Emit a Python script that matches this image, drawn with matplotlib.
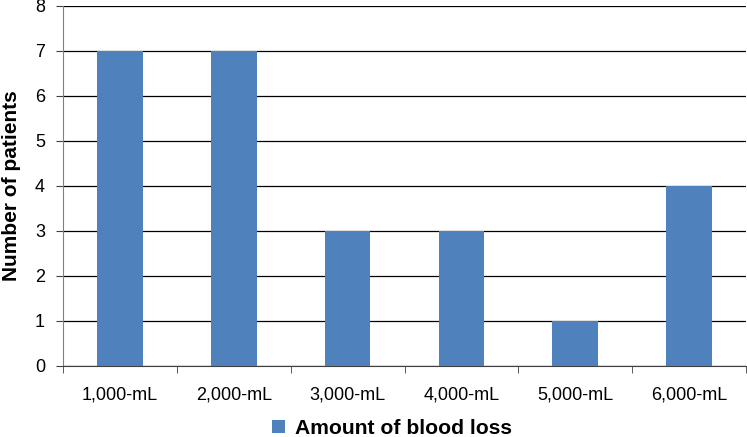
import numpy as np
import matplotlib
matplotlib.use("Agg")
import matplotlib.pyplot as plt
from matplotlib.patches import Patch

# === DATA ===
categories = ["1,000-mL", "2,000-mL", "3,000-mL", "4,000-mL", "5,000-mL", "6,000-mL"]
patients = [7, 7, 3, 3, 1, 4]
series_name = "Amount of blood loss"
bar_color = "#4F81BD"

plt.rcParams["font.family"] = ["Liberation Sans", "DejaVu Sans"]

fig = plt.figure(figsize=(7.47, 4.37), dpi=100)
ax = fig.add_axes([0.0843, 0.1625, 0.9144, 0.8238])

x = np.arange(len(categories))
ax.bar(x, patients, width=0.4, color=bar_color, zorder=3)

ax.set_xlim(-0.5, len(categories) - 0.5)
ax.set_ylim(0, 8)
ax.set_yticks(range(0, 9))
ax.yaxis.grid(True, color="black", linewidth=0.9, zorder=0)

# category labels at centres, tick marks at boundaries
ax.set_xticks(x)
ax.set_xticklabels(categories, fontsize=13)
ax.set_xticks(np.arange(-0.5, len(categories)), minor=True)
ax.tick_params(axis="x", which="major", length=0, pad=15)
ax.tick_params(axis="x", which="minor", length=5, color="#404040", direction="out")
ax.tick_params(axis="y", length=5, color="#404040", labelsize=13, direction="out", pad=8)

for side in ["top", "right"]:
    ax.spines[side].set_visible(False)
ax.spines["left"].set_color("#808080")
ax.spines["bottom"].set_color("#404040")

ax.set_ylabel("Number of patients", fontsize=15, fontweight="bold")
ax.yaxis.set_label_coords(-0.061, 0.5)

handle = Patch(facecolor=bar_color, label=series_name)
fig.legend(handles=[handle], loc="lower center", bbox_to_anchor=(0.525, -0.045),
           frameon=False, prop={"size": 15.2, "weight": "bold"},
           handlelength=0.6, handleheight=0.6, handletextpad=0.5)

fig.savefig("out.png", dpi=100)
